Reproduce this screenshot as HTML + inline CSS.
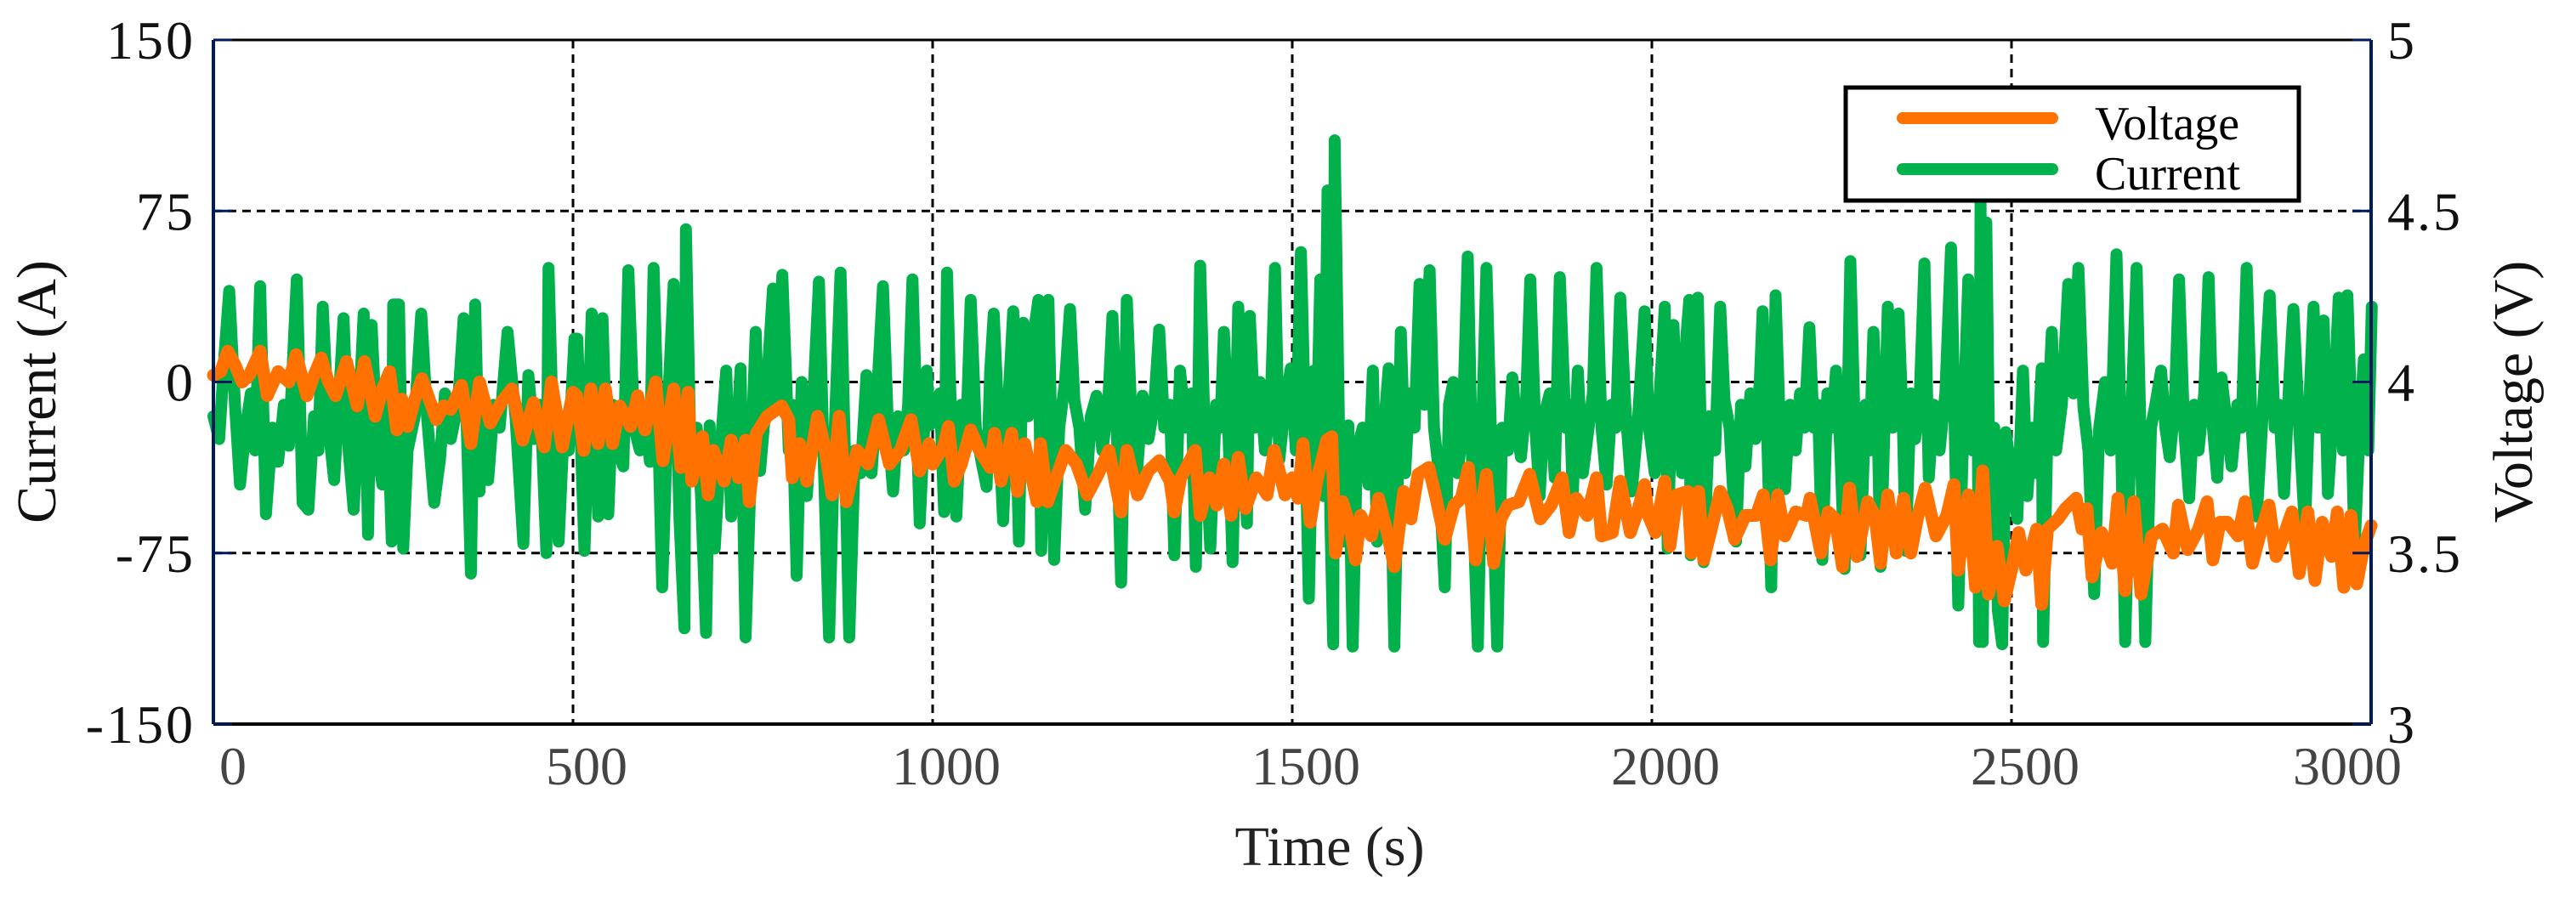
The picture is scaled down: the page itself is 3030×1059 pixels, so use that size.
<!DOCTYPE html>
<html>
<head>
<meta charset="utf-8">
<style>
  html, body { margin: 0; padding: 0; background: #fff; }
  svg { display: block; }
  text { font-family: "Liberation Serif", "DejaVu Serif", serif; }
</style>
</head>
<body>
<svg id="chart" width="3030" height="1059" viewBox="0 0 3030 1059" xmlns="http://www.w3.org/2000/svg">
  <rect x="0" y="0" width="3030" height="1059" fill="#fff"/>
  <g id="grid"></g>
  <g id="series"></g>
  <g id="axes"></g>
  <g id="labels"></g>
  <text x="50" y="461" font-size="66" fill="#111" text-anchor="middle" transform="rotate(-90 50 461)" dominant-baseline="middle">Current (A)</text>
  <text x="2963" y="461" font-size="66" fill="#111" text-anchor="middle" transform="rotate(-90 2963 461)" dominant-baseline="middle">Voltage (V)</text>
  <text x="1564" y="1018" font-size="66" fill="#222" text-anchor="middle">Time (s)</text>
  <g>
    <rect x="2171" y="103" width="533" height="133" fill="#fff" stroke="#000" stroke-width="5"/>
    <line x1="2238" y1="139" x2="2414" y2="139" stroke="#ff7100" stroke-width="14" stroke-linecap="round"/>
    <line x1="2238" y1="199" x2="2414" y2="199" stroke="#00b14c" stroke-width="14" stroke-linecap="round"/>
    <text x="2464" y="164" font-size="56" fill="#000">Voltage</text>
    <text x="2464" y="223" font-size="56" fill="#000">Current</text>
  </g>
</svg>
<script>
const xTicks = [0, 500, 1000, 1500, 2000, 2500, 3000];
const xTickLabels = ["0", "500", "1000", "1500", "2000", "2500", "3000"];
const currentTicks = [150, 75, 0, -75, -150];
const currentTickLabels = ["150", "75", "0", "-75", "-150"];
const voltageTicks = [5, 4.5, 4, 3.5, 3];
const voltageTickLabels = ["5", "4.5", "4", "3.5", "3"];

const currentTimes = [0,8,15,22,30,37,45,52,58,65,73,82,90,98,105,116,124,132,140,146,152,160,168,175,181,188,195,203,209,215,220,228,235,242,248,250,258,264,270,280,289,297,307,315,322,330,340,348,358,364,370,376,382,390,398,409,420,431,438,446,455,463,466,472,480,488,494,502,
506,516,526,535,541,549,555,563,570,577,585,593,600,607,612,618,624,632,640,648,655,657,664,672,678,685,690,697,705,713,720,727,733,740,748,754,760,768,778,784,791,800,805,811,818,825,832,842,849,856,864,872,878,884,892,900,908,915,922,931,938,945,952,960,966,972,978,982,992,996,
1004,1010,1016,1020,1026,1033,1040,1046,1053,1060,1068,1075,1080,1085,1092,1098,1105,1112,1120,1126,1133,1140,1147,1151,1156,1161,1169,1176,1184,1191,1197,1204,1212,1220,1228,1236,1244,1250,1256,1262,1270,1277,1284,1292,1300,1308,1315,1322,1330,1336,1344,1352,1360,1366,1372,1378,1386,1394,1400,1405,1411,1417,1425,1431,1437,1441,1448,1455,1462,1470,1476,1482,1490,1498,
1505,1512,1518,1523,1530,1535,1539,1544,1549,1553,1557,1559,1565,1572,1578,1584,1590,1598,1606,1612,1618,1625,1634,1642,1651,1657,1663,1670,1677,1684,1691,1697,1704,1712,1718,1724,1730,1737,1744,1751,1758,1764,1770,1777,1785,1792,1800,1806,1812,1818,1825,1831,1838,1844,1850,1858,1865,1872,1880,1886,1890,1897,1904,1912,1918,1923,1930,1937,1944,1950,1956,1963,1972,1980,1990,
1996,2004,2010,2018,2022,2030,2036,2042,2048,2052,2054,2060,2064,2072,2080,2088,2095,2101,2108,2117,2124,2130,2137,2144,2150,2154,2160,2166,2172,2178,2185,2192,2200,2206,2212,2219,2225,2231,2237,2244,2250,2256,2262,2268,2276,2282,2290,2297,2303,2308,2314,2318,2328,2335,2343,2349,2353,2360,2366,2372,2379,2385,2392,2400,2408,2416,2421,2426,2434,2440,2446,2452,2455,2457,2460,2465,2470,2476,2481,2487,2492,
2500,2508,2516,2522,2528,2535,2542,2544,2550,2556,2562,2570,2579,2586,2593,2600,2607,2615,2622,2630,2638,2646,2652,2658,2666,2674,2680,2686,2694,2700,2708,2714,2720,2727,2733,2740,2747,2754,2760,2768,2774,2780,2786,2792,2800,2806,2814,2820,2827,2834,2841,2850,2859,2866,2872,2879,2886,2892,2900,2908,2914,2920,2926,2934,2940,2948,2955,2961,2967,2972,2977,2984,2990,2996,3001];
const currentValues = [-15,-25,10,40,-10,-45,-20,-5,-30,42,-58,-20,-35,-10,-28,45,-53,-56,-15,-30,33,-20,-43,-5,28,-30,-56,-10,30,-67,25,-30,-45,-10,-70,34,34,-73,-30,-15,30,-15,-53,-34,-5,-25,-10,28,-84,34,-48,-15,-43,-10,-20,22,-15,-71,3,-25,-10,-75,50,-20,-70,-15,-30,19,
19,-74,30,-59,28,-58,-10,-30,-37,49,-20,-30,-15,-35,50,-15,-90,-10,43,-60,-108,67,-40,-20,-50,-110,-19,-73,-30,5,-59,-30,6,-112,-30,22,-39,-10,41,-11,47,-30,-10,-85,0,-50,-20,44,-40,-112,-20,48,-30,-112,-30,-40,3,-40,-10,42,-20,-48,-15,-30,-10,45,-20,-62,5,-19,
-10,-5,-57,48,-20,-59,-10,-30,36,-20,-35,-46,5,30,-20,-61,-10,31,-70,26,-15,20,36,-74,-10,36,-78,-20,0,32,-8,-20,-56,-15,-6,-30,-10,29,-20,-88,36,-20,-40,-6,-25,-10,23,-20,-10,-76,5,-20,-5,-81,51,-20,-73,-10,-20,22,-20,-79,33,-20,-62,29,-20,0,-30,-10,50,-34,-10,6,
-30,57,-20,-95,5,-10,45,-50,84,-60,-115,106,-20,-70,-19,-116,-30,-20,-45,5,-70,-30,6,-116,22,-40,-5,-20,43,-10,49,-20,-40,-90,-10,0,-40,-20,55,-50,-116,-20,50,-30,-116,-20,-30,2,-20,-33,-10,45,-20,-50,-15,-5,-42,46,-20,-10,-50,5,-40,-20,-5,50,-20,-45,-10,-20,37,-10,-48,-20,31,
-20,-40,-10,33,-73,25,-20,-40,20,36,-76,-10,37,-79,-15,-30,33,-8,-20,-70,-10,-37,-5,-25,0,31,-20,-90,38,-20,-47,-10,-30,-5,-20,24,-20,-10,-78,-5,-20,5,-30,-82,53,-20,-76,-10,-30,22,-20,-81,33,-20,30,-20,-74,-5,-25,-10,52,-42,-10,-30,-5,59,-20,-98,-10,45,-30,35,-114,80,-114,70,-60,-20,-100,-115,-22,
-40,-60,5,-50,-20,-40,6,-114,-20,22,-30,-10,43,-5,50,-11,-30,-93,-20,0,-30,56,-20,-114,-20,50,-30,-114,-20,-10,5,-20,-33,-10,45,-20,-51,-10,-30,-5,46,-20,-42,2,-20,-37,-10,-20,50,-20,-59,-10,38,-20,-10,-49,0,32,-20,-64,-10,33,-20,27,-49,-10,37,-30,38,-10,-74,-20,10,-30,33];

const voltageTimes = [0,10,20,30,40,50,65,75,90,105,115,130,140,150,160,170,185,200,210,225,235,245,255,262,270,280,290,300,310,320,330,345,358,370,385,400,415,430,445,460,470,485,500,505,515,525,535,545,555,565,580,590,600,615,625,640,650,660,665,680,688,695,710,720,730,740,745,755,770,790,800,805,815,825,840,850,860,870,880,895,910,925,940,955,970,982,995,
1000,1015,1022,1030,1040,1053,1065,1080,1086,1095,1110,1118,1128,1145,1150,1160,1170,1185,1200,1215,1230,1245,1262,1270,1285,1300,1315,1330,1336,1345,1365,1372,1385,1395,1405,1415,1425,1435,1450,1465,1475,1490,1500,1508,1515,1525,1535,1548,1555,1560,1570,1580,1588,1595,1610,1620,1632,1642,1655,1665,1675,1690,1700,1712,1725,1735,1745,1755,1765,1770,1780,1790,1800,1815,1830,1845,1860,1875,1885,1895,1910,1923,1930,1945,1956,1970,1980,1990,
1995,2005,2018,2025,2035,2050,2055,2065,2072,2085,2095,2105,2115,2130,2145,2155,2165,2175,2185,2200,2215,2220,2235,2245,2255,2265,2275,2285,2300,2310,2318,2328,2340,2350,2360,2370,2380,2395,2410,2420,2426,2440,2450,2460,2468,2480,2490,2500,2510,2520,2535,2542,2550,2565,2575,2590,2598,2605,2612,2625,2640,2648,2658,2670,2680,2695,2710,2725,2732,2745,2760,2772,2780,2790,2800,2815,2825,2835,2845,2858,2868,2880,2890,2900,2912,2922,2932,2945,2953,2962,2972,2980,2990,3000];
const voltageValues = [4.02,4.03,4.09,4.05,4.0,4.02,4.09,3.96,4.03,4.0,4.08,3.96,4.02,4.07,4.0,3.96,4.06,3.93,4.06,3.9,3.98,4.03,3.86,3.95,3.87,3.95,4.01,3.95,3.89,3.93,3.92,3.99,3.82,4.0,3.88,3.94,3.98,3.83,3.94,3.81,4.0,3.81,3.97,3.96,3.80,3.98,3.82,3.98,3.82,3.93,3.87,3.96,3.86,4.0,3.77,3.98,3.75,3.97,3.71,3.84,3.67,3.80,3.71,3.83,3.72,3.83,3.65,3.85,3.90,3.93,3.89,3.72,3.82,3.71,3.90,3.81,3.67,3.90,3.65,3.80,3.76,3.89,3.76,3.80,3.89,3.74,3.82,
3.76,3.81,3.87,3.71,3.76,3.86,3.80,3.75,3.85,3.71,3.85,3.68,3.82,3.65,3.82,3.65,3.71,3.80,3.76,3.67,3.73,3.80,3.62,3.80,3.67,3.74,3.77,3.71,3.62,3.72,3.80,3.61,3.72,3.64,3.76,3.61,3.78,3.63,3.72,3.67,3.80,3.67,3.72,3.66,3.82,3.59,3.72,3.83,3.84,3.50,3.65,3.58,3.48,3.61,3.55,3.66,3.56,3.46,3.68,3.60,3.73,3.75,3.66,3.54,3.64,3.66,3.75,3.48,3.66,3.73,3.47,3.60,3.64,3.65,3.73,3.60,3.64,3.72,3.56,3.66,3.61,3.72,3.55,3.56,3.71,3.56,3.62,3.70,
3.61,3.56,3.71,3.52,3.67,3.68,3.50,3.68,3.48,3.59,3.68,3.63,3.54,3.61,3.61,3.67,3.48,3.67,3.55,3.62,3.61,3.66,3.50,3.62,3.60,3.46,3.69,3.49,3.65,3.61,3.47,3.67,3.50,3.66,3.50,3.61,3.69,3.55,3.61,3.70,3.45,3.67,3.40,3.74,3.38,3.52,3.36,3.45,3.56,3.45,3.57,3.35,3.57,3.60,3.63,3.66,3.57,3.63,3.43,3.56,3.47,3.66,3.39,3.65,3.38,3.55,3.57,3.50,3.64,3.51,3.57,3.65,3.48,3.59,3.59,3.55,3.65,3.47,3.55,3.64,3.49,3.56,3.62,3.44,3.62,3.42,3.59,3.49,3.62,3.40,3.61,3.41,3.52,3.58];

const NS = "http://www.w3.org/2000/svg";
const PL = 251, PR = 2789, PT = 47, PB = 852;
function xScale(t) { return PL + t / 3000 * (PR - PL); }
function yCurrent(a) { return PB - (a + 150) / 300 * (PB - PT); }
function yVoltage(v) { return PB - (v - 3) / 2 * (PB - PT); }
function mk(tag, attrs, parent) {
  const el = document.createElementNS(NS, tag);
  for (const k in attrs) el.setAttribute(k, attrs[k]);
  parent.appendChild(el);
  return el;
}
const gridG = document.getElementById('grid');
const seriesG = document.getElementById('series');
const axesG = document.getElementById('axes');
const labelsG = document.getElementById('labels');

for (let i = 1; i < xTicks.length - 1; i++) {
  const x = xScale(xTicks[i]);
  const g = mk('line', {x1: x, y1: PT, x2: x, y2: PB, stroke: '#000', 'stroke-width': 3, 'stroke-dasharray': '10 7'}, gridG);
  
  
}
for (let i = 1; i < currentTicks.length - 1; i++) {
  const y = yCurrent(currentTicks[i]);
  const g = mk('line', {x1: PL, y1: y, x2: PR, y2: y, stroke: '#000', 'stroke-width': 3, 'stroke-dasharray': '10 7'}, gridG);
  
  
}

function pathFrom(times, vals, yf) {
  let d = '';
  const n = Math.min(times.length, vals.length);
  for (let i = 0; i < n; i++) {
    d += (i ? 'L' : 'M') + xScale(times[i]).toFixed(1) + ' ' + yf(vals[i]).toFixed(1);
  }
  return d;
}
const curPath = mk('path', {d: pathFrom(currentTimes, currentValues, yCurrent), fill: 'none', stroke: '#00b14c', 'stroke-width': 14, 'stroke-linejoin': 'round', 'stroke-linecap': 'round'}, seriesG);


const volPath = mk('path', {d: pathFrom(voltageTimes, voltageValues, yVoltage), fill: 'none', stroke: '#ff7100', 'stroke-width': 15, 'stroke-linejoin': 'round', 'stroke-linecap': 'round'}, seriesG);



const frameTop = mk('line', {x1: PL, y1: PT, x2: PR, y2: PT, stroke: '#000', 'stroke-width': 3}, axesG);


const frameBottom = mk('line', {x1: PL, y1: PB, x2: PR, y2: PB, stroke: '#000', 'stroke-width': 4}, axesG);


const leftAxis = mk('line', {x1: PL, y1: PT, x2: PL, y2: PB, stroke: '#001a5e', 'stroke-width': 4}, axesG);


const rightAxis = mk('line', {x1: PR, y1: PT, x2: PR, y2: PB, stroke: '#001a5e', 'stroke-width': 4}, axesG);



for (let i = 0; i < currentTicks.length; i++) {
  const y = yCurrent(currentTicks[i]);
  const tk = mk('line', {x1: PL, y1: y, x2: PL + 22, y2: y, stroke: '#001a5e', 'stroke-width': 3}, axesG);
  
  
  const t = mk('text', {x: 230, y: y + 22, 'font-size': 64, 'text-anchor': 'end', fill: '#111', 'letter-spacing': 3}, labelsG);
  t.textContent = currentTickLabels[i];
  
  
}
for (let i = 0; i < voltageTicks.length; i++) {
  const y = yVoltage(voltageTicks[i]);
  const tk = mk('line', {x1: PR - 22, y1: y, x2: PR, y2: y, stroke: '#001a5e', 'stroke-width': 3}, axesG);
  
  
  const t = mk('text', {x: 2808, y: y + 22, 'font-size': 64, 'text-anchor': 'start', fill: '#111', 'letter-spacing': 3}, labelsG);
  t.textContent = voltageTickLabels[i];
  
  
}
for (let i = 0; i < xTicks.length; i++) {
  let x = xScale(xTicks[i]) + 16;
  if (i === 0) x = xScale(xTicks[i]) + 23;
  if (i === xTicks.length - 1) x = xScale(xTicks[i]) - 28;
  const t = mk('text', {x: x, y: 923, 'font-size': 64, 'text-anchor': 'middle', fill: '#444'}, labelsG);
  t.textContent = xTickLabels[i];
  
  
}
</script>
</body>
</html>
